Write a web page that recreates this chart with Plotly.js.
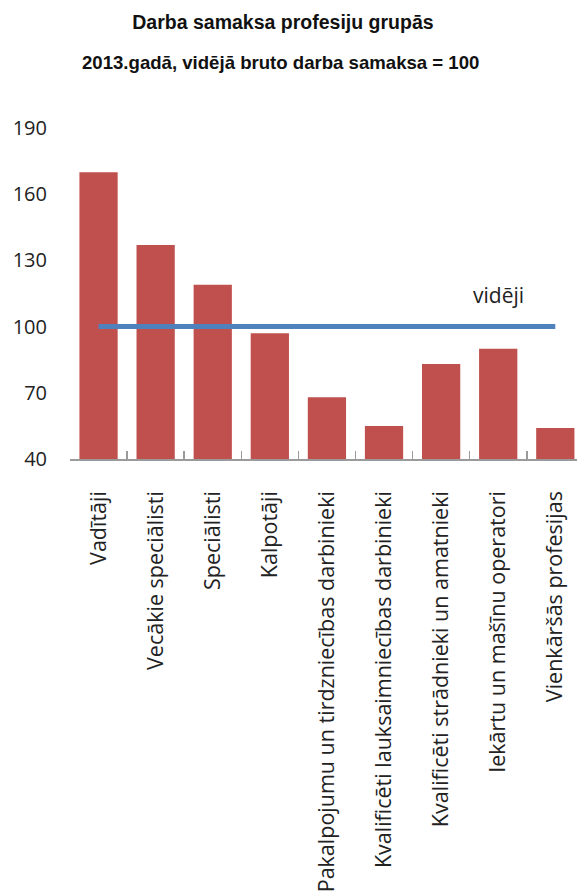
<!DOCTYPE html>
<html>
<head>
<meta charset="utf-8">
<script src="https://cdn.plot.ly/plotly-3.0.1.min.js"></script>
<style>html,body{margin:0;padding:0;background:#fff;}#chart{width:577px;height:896px;}</style>
</head>
<body>
<div id="chart"></div>
<script>
const categories = [
  "Vadītāji",
  "Vecākie speciālisti",
  "Speciālisti",
  "Kalpotāji",
  "Pakalpojumu un tirdzniecības darbinieki",
  "Kvalificēti lauksaimniecības darbinieki",
  "Kvalificēti strādnieki un amatnieki",
  "Iekārtu un mašīnu operatori",
  "Vienkāršās profesijas"
];
const wageIndex = [170, 137, 119, 97, 68, 55, 83, 90, 54];
const averageValue = [100, 100, 100, 100, 100, 100, 100, 100, 100];
const tickVals = [40, 70, 100, 130, 160, 190];
const titleLine1 = "Darba samaksa profesiju grupās";
const titleLine2 = "2013.gadā, vidējā bruto darba samaksa = 100";
const averageLabel = "vidēji";

const bodyFont = "'Open Sans', 'Noto Sans', sans-serif";
const titleFont = "'Liberation Sans', Arial, sans-serif";

const bars = {
  type: "bar",
  x: categories,
  y: wageIndex,
  base: 0,
  marker: {color: "#C0504D"},
  hoverinfo: "x+y",
  showlegend: false
};
const avgLine = {
  type: "scatter",
  mode: "lines",
  x: categories,
  y: averageValue,
  line: {color: "#4F81BD", width: 5},
  showlegend: false
};

const layout = {
  width: 577,
  height: 896,
  margin: {l: 70, r: 0, t: 128, b: 437},
  paper_bgcolor: "#fff",
  plot_bgcolor: "#fff",
  bargap: 0.33,
  font: {family: bodyFont, color: "#222"},
  title: {
    text: "<b>" + titleLine1 + "</b>",
    x: 0.42, xref: "paper", xanchor: "center",
    y: 1 - 22/896, yref: "container", yanchor: "middle",
    font: {family: titleFont, size: 19.5, color: "#111"}
  },
  annotations: [
    {
      text: "<b>" + titleLine2 + "</b>",
      xref: "paper", yref: "paper",
      x: 0.416, y: 1 + (128 - 63)/331,
      xanchor: "center", yanchor: "middle", showarrow: false,
      font: {family: titleFont, size: 18.6, color: "#111"}
    },
    {
      text: averageLabel,
      xref: "x", yref: "y",
      x: categories[7], y: 114.5,
      xanchor: "center", yanchor: "middle", showarrow: false,
      font: {family: bodyFont, size: 21, color: "#222"}
    }
  ],
  xaxis: {
    type: "category",
    range: [-0.5, 8.38],
    showline: true, linecolor: "#9a9a9a", linewidth: 1.5,
    ticks: "inside", tickson: "boundaries", ticklen: 8, tickcolor: "#9a9a9a", tickwidth: 1.5,
    tickangle: -90,
    ticklabelstandoff: 22,
    tickfont: {family: bodyFont, size: 21.5, color: "#222"},
    showgrid: false,
    zeroline: false,
    fixedrange: true
  },
  yaxis: {
    range: [40, 190],
    tickvals: tickVals,
    ticktext: tickVals.map(String),
    showline: false,
    showgrid: false,
    zeroline: false,
    ticks: "",
    ticklabelstandoff: 22,
    tickfont: {family: bodyFont, size: 20, color: "#222"},
    fixedrange: true
  }
};

Plotly.newPlot("chart", [bars, avgLine], layout, {displayModeBar: false, staticPlot: true});
</script>
</body>
</html>
